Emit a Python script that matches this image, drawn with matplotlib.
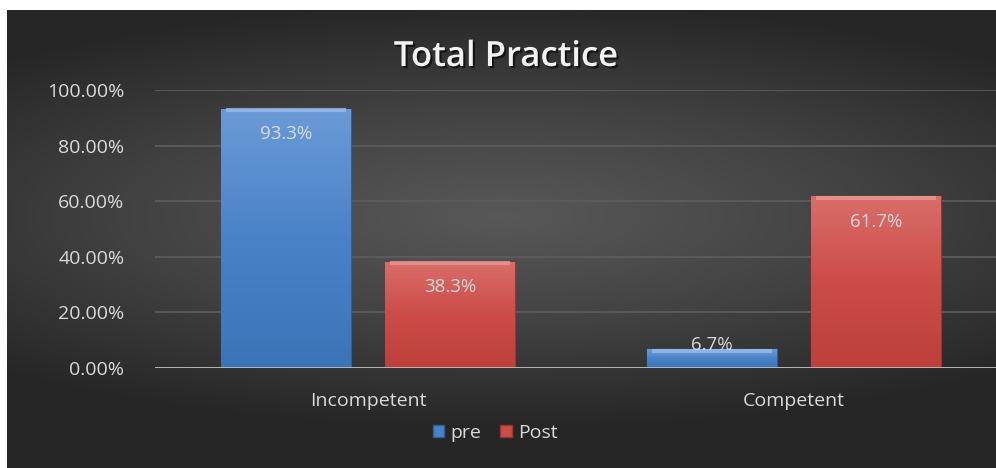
import numpy as np
import matplotlib
matplotlib.use('Agg')
import matplotlib.pyplot as plt
import matplotlib.patheffects as pe
from matplotlib.colors import LinearSegmentedColormap
from matplotlib.patches import Patch

categories = ['Incompetent', 'Competent']
pre_values = [93.3, 6.7]
post_values = [38.3, 61.7]
series_names = ['pre', 'Post']
y_ticks = [0, 20, 40, 60, 80, 100]

plt.rcParams['font.family'] = ['Open Sans', 'DejaVu Sans']

W, H = 996, 468
fig = plt.figure(figsize=(W / 100, H / 100), dpi=100, facecolor='white')

# dark radial gradient backdrop, with the white strip at top and left
bg = fig.add_axes([7 / W, 0, (W - 7) / W, (H - 10) / H])
bg.set_axis_off()
yy, xx = np.mgrid[0:1:300j, 0:1:600j]
r = np.sqrt(((xx - 0.5) * 1.0) ** 2 + ((yy - 0.45) * 1.6) ** 2)
r = np.clip(r / 0.75, 0, 1)
bg_cmap = LinearSegmentedColormap.from_list('bg', ['#585858', '#424242', '#262626'])
bg.imshow(r, cmap=bg_cmap, aspect='auto', extent=[0, 1, 0, 1])
bg.set_xlim(0, 1)
bg.set_ylim(0, 1)

ax = fig.add_axes([155 / W, 100 / H, (W - 155) / W, 278 / H])
ax.set_facecolor('none')
for s in ax.spines.values():
    s.set_visible(False)

x = np.arange(len(categories))
w = 0.305
off = 0.192

blue_cmap = LinearSegmentedColormap.from_list('b', ['#3c74b8', '#4a82c8', '#6b9ad6'])
red_cmap = LinearSegmentedColormap.from_list('r', ['#bd403b', '#cc4c47', '#d96d69'])

bars_pre = ax.bar(x - off, pre_values, w, color='#4a82c8', edgecolor='#2f5f99', linewidth=0.8, zorder=3)
bars_post = ax.bar(x + off, post_values, w, color='#cc4c47', edgecolor='#9a3531', linewidth=0.8, zorder=3)

grad = np.linspace(0, 1, 100).reshape(-1, 1)
for bars, cmap, light in [(bars_pre, blue_cmap, '#9cc0ee'), (bars_post, red_cmap, '#ee9a97')]:
    for b in bars:
        x0, y0 = b.get_x(), b.get_y()
        bw, bh = b.get_width(), b.get_height()
        im = ax.imshow(grad, cmap=cmap, aspect='auto', origin='lower',
                       extent=[x0, x0 + bw, y0, y0 + bh], zorder=3.5)
        im.set_clip_path(b)
        # bevel highlight along top edge
        ax.plot([x0 + 0.012, x0 + bw - 0.012], [y0 + bh - 0.5, y0 + bh - 0.5],
                color=light, lw=3, alpha=0.75, zorder=4, solid_capstyle='butt')

for bars, vals in [(bars_pre, pre_values), (bars_post, post_values)]:
    for b, v in zip(bars, vals):
        cx = b.get_x() + b.get_width() / 2
        if v > 15:
            ax.text(cx, v - 6, f'{v:.1f}%', ha='center', va='top',
                    fontsize=13.5, color='#dadada', zorder=5)
        else:
            ax.text(cx, v - 1.8, f'{v:.1f}%', ha='center', va='bottom',
                    fontsize=13.5, color='#dadada', zorder=5)

ax.set_xlim(-0.5, 1.474)
ax.set_ylim(0, 100)
ax.set_yticks(y_ticks)
ax.set_yticklabels([f'{t:.2f}%' for t in y_ticks])
ax.set_xticks(x)
ax.set_xticklabels(categories)
ax.tick_params(axis='y', length=0, pad=22, labelsize=14, labelcolor='#d9d9d9')
ax.tick_params(axis='x', length=0, pad=17, labelsize=14, labelcolor='#d9d9d9')
ax.yaxis.grid(True, color='#5e5e5e', lw=1.2, zorder=0)
ax.axhline(0, color='#bdbdbd', lw=2, zorder=6)

fig.text(506 / W, 1 - 57 / H, 'Total Practice', ha='center', va='center',
         fontsize=25, fontweight='semibold', color='#f2f2f2',
         path_effects=[pe.withSimplePatchShadow(offset=(1.5, -1.5), shadow_rgbFace='black', alpha=0.6)])

handles = [Patch(facecolor='#4a82c8', edgecolor='#2f5f99'),
           Patch(facecolor='#cc4c47', edgecolor='#9a3531')]
fig.legend(handles, series_names, loc='center', bbox_to_anchor=(495 / W, 1 - 433 / H),
           ncol=2, frameon=False, fontsize=14, labelcolor='#d9d9d9',
           handlelength=0.6, handleheight=0.6, handletextpad=0.3, columnspacing=1.0)

fig.savefig('out.png', dpi=100, facecolor='white')
